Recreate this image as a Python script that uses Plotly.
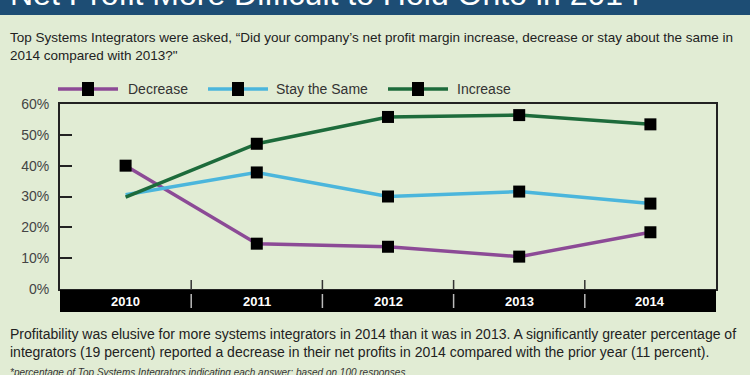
import plotly.graph_objects as go

years = ["2010", "2011", "2012", "2013", "2014"]
decrease = [40, 14.7, 13.7, 10.5, 18.4]
stay_same = [30.6, 37.8, 30, 31.6, 27.7]
increase = [29.8, 47.1, 55.8, 56.4, 53.4]
marker_shown = {"Decrease": [1, 1, 1, 1, 1], "Stay the Same": [0, 1, 1, 1, 1], "Increase": [0, 1, 1, 1, 1]}
y_ticks = [0, 10, 20, 30, 40, 50, 60]

W, H = 750, 375
L, R, T, B = 60, 716, 104, 289  # plot area in pixels
BG = "#e1ecd4"
colors = {"Decrease": "#8c4a96", "Stay the Same": "#4bb6dc", "Increase": "#1d6b3b"}
FONT = "Liberation Sans, Arial, sans-serif"


def px(x):
    return (x - L) / (R - L)


def py(y):
    return (B - y) / (B - T)


xs = list(range(len(years)))
fig = go.Figure()
for name, vals in [("Decrease", decrease), ("Stay the Same", stay_same), ("Increase", increase)]:
    fig.add_trace(go.Scatter(
        x=xs, y=vals, mode="lines+markers", name=name,
        line=dict(color=colors[name], width=3.5),
        marker=dict(symbol="square", size=12, color="black",
                    opacity=marker_shown[name], line=dict(width=0)),
        showlegend=False, cliponaxis=False,
    ))

shapes = []
annotations = []

# title banner
shapes.append(dict(type="rect", xref="paper", yref="paper", x0=px(0), x1=px(W), y0=py(15), y1=py(-5),
                   fillcolor="#1d4d74", line=dict(width=0), layer="below"))
annotations.append(dict(xref="paper", yref="paper", x=px(8), y=py(14.5), xanchor="left", yanchor="bottom",
                        text="Net Profit More Difficult to Hold Onto in 2014", showarrow=False,
                        font=dict(family=FONT, size=32, color="white")))

# subtitle
annotations.append(dict(xref="paper", yref="paper", x=px(8), y=py(46), xanchor="left", yanchor="middle",
                        align="left", showarrow=False,
                        text="Top Systems Integrators were asked, \u201cDid your company\u2019s net profit margin increase, decrease or stay about the same in<br>2014 compared with 2013?\"",
                        font=dict(family=FONT, size=13.5, color="#222")))

# legend (manual)
legend_items = [("Decrease", 58, 118, 88, 126), ("Stay the Same", 208, 268, 238, 274), ("Increase", 388, 448, 418, 455)]
ly = 89
for name, x0, x1, mx, tx in legend_items:
    shapes.append(dict(type="line", xref="paper", yref="paper", x0=px(x0), x1=px(x1), y0=py(ly), y1=py(ly),
                       line=dict(color=colors[name], width=3.5)))
    shapes.append(dict(type="rect", xref="paper", yref="paper", x0=px(mx - 6), x1=px(mx + 6),
                       y0=py(ly + 7), y1=py(ly - 7), fillcolor="black", line=dict(width=0)))
    annotations.append(dict(xref="paper", yref="paper", x=px(tx), y=py(ly), xanchor="left", yanchor="middle",
                            text=name, showarrow=False,
                            font=dict(family=FONT, size=14, color="#333")))

# black category band
shapes.append(dict(type="rect", xref="paper", yref="paper", x0=0, x1=1, y0=py(312), y1=py(290),
                   fillcolor="black", line=dict(width=0)))
for i in range(len(years) - 1):
    b = i + 0.5
    shapes.append(dict(type="line", xref="x", yref="paper", x0=b, x1=b, y0=py(290), y1=py(280),
                       line=dict(color="#333", width=1.5)))
    shapes.append(dict(type="line", xref="x", yref="paper", x0=b, x1=b, y0=py(308), y1=py(294),
                       line=dict(color="#bbb", width=1.5)))
for i, yr in enumerate(years):
    annotations.append(dict(xref="x", yref="paper", x=i, y=py(301), xanchor="center", yanchor="middle",
                            text="<b>" + yr + "</b>", showarrow=False,
                            font=dict(family=FONT, size=13, color="white")))

# bottom text
annotations.append(dict(xref="paper", yref="paper", x=px(8), y=py(343), xanchor="left", yanchor="middle",
                        align="left", showarrow=False,
                        text="Profitability was elusive for more systems integrators in 2014 than it was in 2013. A significantly greater percentage of<br>integrators (19 percent) reported a decrease in their net profits in 2014 compared with the prior year (11 percent).",
                        font=dict(family=FONT, size=14, color="#222")))
annotations.append(dict(xref="paper", yref="paper", x=px(8), y=py(372), xanchor="left", yanchor="middle",
                        align="left", showarrow=False,
                        text="<i>*percentage of Top Systems Integrators indicating each answer; based on 100 responses</i>",
                        font=dict(family=FONT, size=10, color="#333")))

fig.update_layout(
    width=W, height=H,
    margin=dict(l=L, r=W - R, t=T, b=H - B),
    paper_bgcolor=BG, plot_bgcolor=BG,
    shapes=shapes, annotations=annotations,
    xaxis=dict(range=[-0.5, len(years) - 0.5], showgrid=False, zeroline=False, showticklabels=False,
               showline=True, mirror=True, linecolor="#222", linewidth=1.5, fixedrange=True),
    yaxis=dict(range=[0, 60], tickvals=y_ticks, ticktext=[f"{v}%" for v in y_ticks],
               showgrid=False, zeroline=False, ticks="inside", ticklen=12, tickwidth=2, tickcolor="#222",
               showline=True, mirror=True, linecolor="#222", linewidth=2,
               tickfont=dict(family=FONT, size=14, color="#444"),
               ticklabelstandoff=6, fixedrange=True),
    showlegend=False,
)

fig.write_html("out.html", config={"displayModeBar": False},
               post_script="document.body.style.margin='0';document.body.style.overflow='hidden';")
